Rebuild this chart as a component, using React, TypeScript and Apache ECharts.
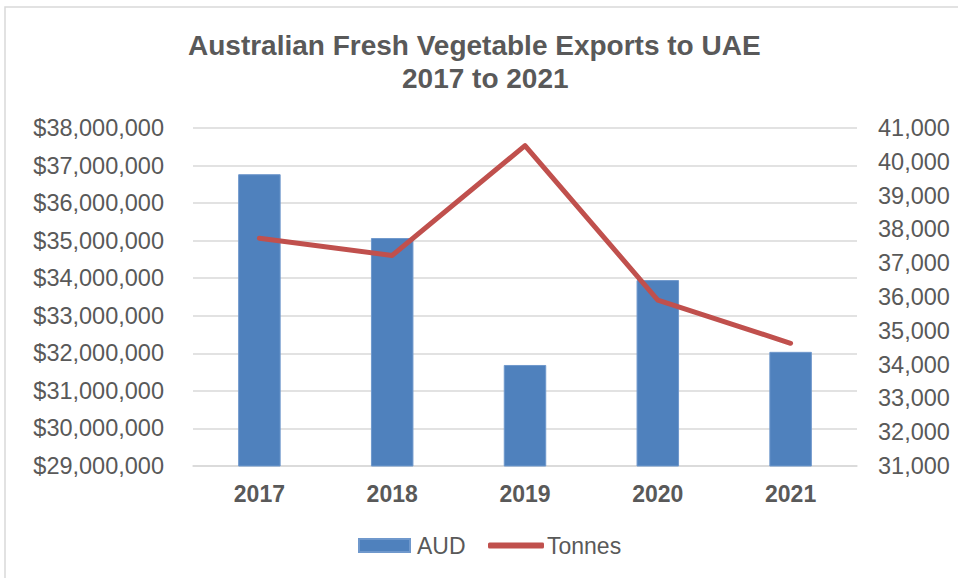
import React, { useEffect, useRef } from "react";
import * as echarts from "echarts";

const years = ["2017", "2018", "2019", "2020", "2021"];
const audValues = [36770000, 35070000, 31690000, 33950000, 32040000];
const tonnesValues = [37740, 37230, 40480, 35910, 34630];
const titleLines = ["Australian Fresh Vegetable Exports to UAE", "2017 to 2021"];

const FONT = "Liberation Sans, Arial, sans-serif";
const GRAY = "#595959";

export default function App() {
  const ref = useRef<HTMLDivElement>(null);
  useEffect(() => {
    if (!ref.current) return;
    const chart = echarts.init(ref.current, undefined, { renderer: "svg" });
    const titleStyle = {
      fontFamily: FONT,
      fontSize: 28,
      fontWeight: "bold",
      color: GRAY,
      lineHeight: 33,
    };
    chart.setOption({
      animation: false,
      backgroundColor: "#ffffff",
      textStyle: { fontFamily: FONT },
      title: [
        { text: titleLines[0], left: 188, top: 29, padding: 0, textStyle: titleStyle },
        { text: titleLines[1], left: 402, top: 62, padding: 0, textStyle: titleStyle },
      ],
      graphic: [
        {
          type: "rect",
          shape: { x: 5, y: 7, width: 1000, height: 600 },
          style: { fill: "none", stroke: "#D9D9D9", lineWidth: 1.5 },
          silent: true,
        },
      ],
      legend: [
        {
          left: 358,
          top: 534,
          padding: 0,
          itemWidth: 51,
          itemHeight: 13,
          textStyle: { fontFamily: FONT, fontSize: 23, color: GRAY, padding: [0, 0, 0, 2] },
          data: [{ name: "AUD", icon: "rect" }],
        },
        {
          left: 488,
          top: 534,
          padding: 0,
          itemWidth: 56,
          itemHeight: 6,
          textStyle: { fontFamily: FONT, fontSize: 23, color: GRAY, padding: [0, 0, 0, -2] },
          data: [{ name: "Tonnes", icon: "roundRect" }],
        },
      ],
      grid: { left: 193, right: 101, top: 128, bottom: 112, containLabel: false },
      xAxis: {
        type: "category",
        data: years,
        axisLine: { lineStyle: { color: "#D9D9D9", width: 1.5 } },
        axisTick: { show: false },
        axisLabel: {
          fontFamily: FONT,
          fontSize: 23,
          fontWeight: "bold",
          color: GRAY,
          margin: 16,
        },
      },
      yAxis: [
        {
          type: "value",
          min: 29000000,
          max: 38000000,
          interval: 1000000,
          axisLine: { show: false },
          axisTick: { show: false },
          splitLine: { lineStyle: { color: "#D9D9D9", width: 1.5 } },
          axisLabel: {
            fontFamily: FONT,
            fontSize: 23.5,
            color: GRAY,
            margin: 29,
            formatter: (v: number) => "$" + v.toLocaleString("en-US"),
          },
        },
        {
          type: "value",
          min: 31000,
          max: 41000,
          interval: 1000,
          position: "right",
          axisLine: { show: false },
          axisTick: { show: false },
          splitLine: { show: false },
          axisLabel: {
            fontFamily: FONT,
            fontSize: 23.5,
            color: GRAY,
            margin: 21,
            formatter: (v: number) => v.toLocaleString("en-US"),
          },
        },
      ],
      series: [
        {
          name: "AUD",
          type: "bar",
          data: audValues,
          yAxisIndex: 0,
          barWidth: "32%",
          itemStyle: { color: "#4F81BD", borderColor: "#6F98CC", borderWidth: 1 },
        },
        {
          name: "Tonnes",
          type: "line",
          data: tonnesValues,
          yAxisIndex: 1,
          symbol: "none",
          lineStyle: { color: "#C0504D", width: 5, cap: "round", join: "round" },
          itemStyle: { color: "#C0504D" },
        },
      ],
    });
    return () => chart.dispose();
  }, []);
  return (
    <div
      ref={ref}
      style={{ position: "fixed", left: 0, top: 0, width: 958, height: 578 }}
    />
  );
}
